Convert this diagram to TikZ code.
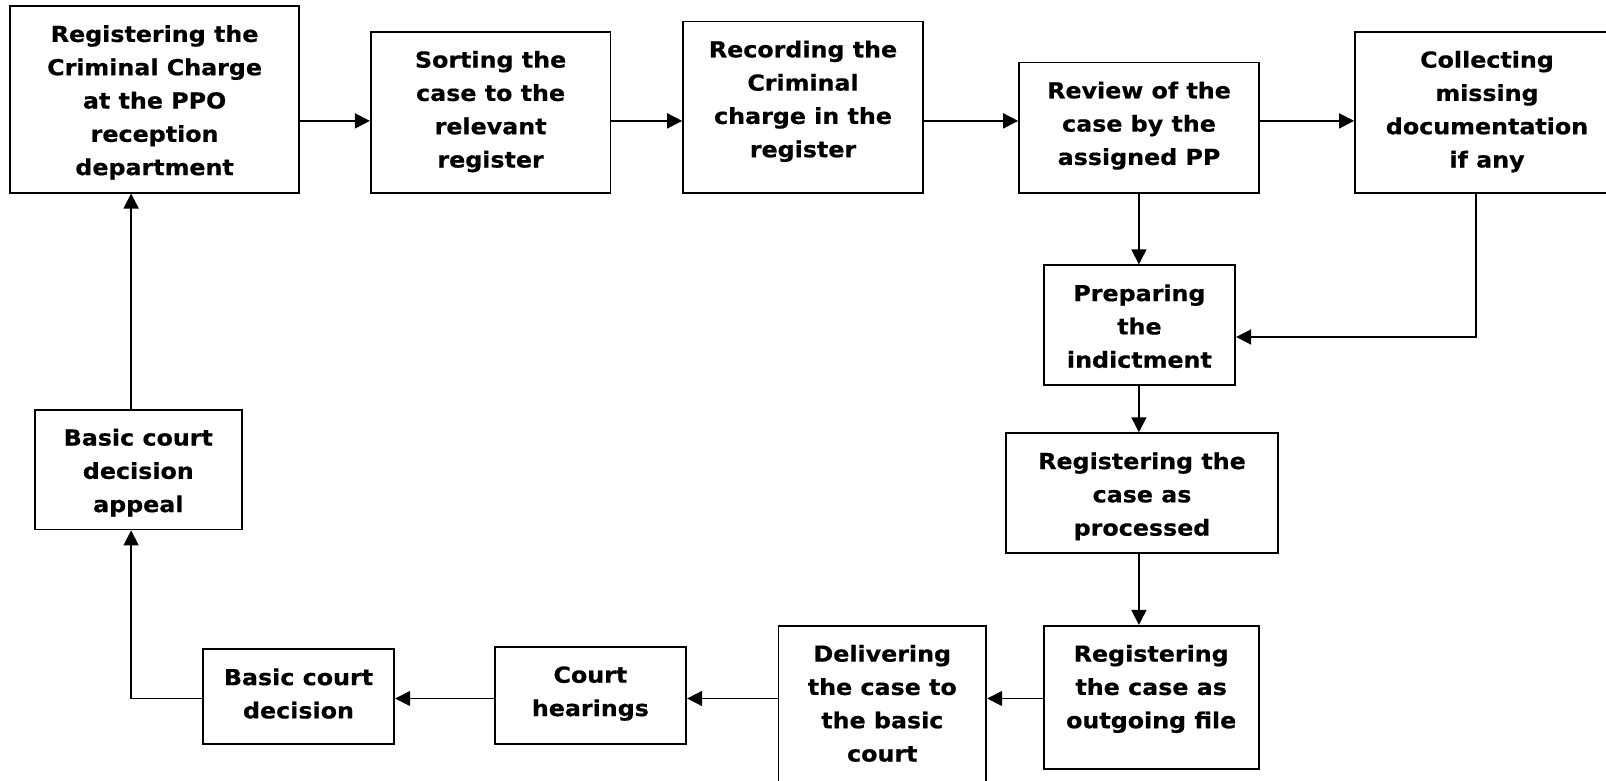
\documentclass[tikz,border=0pt]{standalone}
\usepackage{fontspec}
\setmainfont[FakeStretch=1.08,BoldFeatures={FakeBold=0.6}]{DejaVu Sans}
\usetikzlibrary{arrows.meta,fit}
\begin{document}
\begin{tikzpicture}[x=1pt,y=-1pt,
  box/.style={draw=black,line width=1.8pt,inner sep=0pt,fill=none},
  txt/.style={align=center,inner sep=0pt,anchor=north,
    font=\fontsize{22}{33.3}\selectfont\bfseries},
  arr/.style={line width=1.6pt,-{Triangle[length=15pt,width=15pt]}}]
\useasboundingbox (0,0) rectangle (1606,781);
\clip (0,0) rectangle (1606,781);
\fill[white] (0,0) rectangle (1606,781);

% process boxes: corners, then the text hung from the top edge
\node[box,fit={(10.2,6.1)(299.1,192.6)}] (b1) {};
\node[txt] (t1) at (154.6,25) {Registering the\\Criminal Charge\\at the PPO\\reception\\department};

\node[box,fit={(370.8,31.8)(610.4,192.6)}] (b2) {};
\node[txt] (t2) at (490.6,50.7) {Sorting the\\case to the\\relevant\\register};

\node[box,fit={(683.1,21.5)(922.8,192.6)}] (b3) {};
\node[txt] (t3) at (803,40.4) {Recording the\\Criminal\\charge in the\\register};

\node[box,fit={(1019.1,62.5)(1258.8,192.6)}] (b4) {};
\node[txt] (t4) at (1139,81.4) {Review of the\\case by the\\assigned PP};

\node[box,fit={(1355,31.8)(1619,192.6)}] (b5) {};
\node[txt] (t5) at (1487,50.7) {Collecting\\missing\\documentation\\if any};

\node[box,fit={(1043.6,265.3)(1235.2,385.1)}] (b6) {};
\node[txt] (t6) at (1139.4,284.2) {Preparing\\the\\indictment};

\node[box,fit={(1005.8,433.2)(1278.2,553.1)}] (b7) {};
\node[txt] (t7) at (1142,452.1) {Registering the\\case as\\processed};

\node[box,fit={(1043.6,625.8)(1258.8,769.2)}] (b8) {};
\node[txt] (t8) at (1151.2,644.7) {Registering\\the case as\\outgoing file};

\node[box,fit={(778.4,625.8)(986.3,790)}] (b9) {};
\node[txt] (t9) at (882.3,644.7) {Delivering\\the case to\\the basic\\court};

\node[box,fit={(494.7,647.3)(686.2,743.6)}] (b10) {};
\node[txt] (t10) at (590.4,666.2) {Court\\hearings};

\node[box,fit={(202.8,649.3)(394.3,743.6)}] (b11) {};
\node[txt] (t11) at (298.5,668.2) {Basic court\\decision};

\node[box,fit={(34.8,409.7)(241.7,529.5)}] (b12) {};
\node[txt] (t12) at (138.3,428.6) {Basic court\\decision\\appeal};

% routing levels
\coordinate (topRow) at (0,120.9);
\coordinate (botRow) at (0,698.5);
\coordinate (midCol) at (1138.9,0);
\coordinate (leftCol) at (131.1,0);
\coordinate (rightCol) at (1475.9,337);

% top row, left to right
\draw[arr] (b1.east |- topRow) -- (b2.west |- topRow);
\draw[arr] (b2.east |- topRow) -- (b3.west |- topRow);
\draw[arr] (b3.east |- topRow) -- (b4.west |- topRow);
\draw[arr] (b4.east |- topRow) -- (b5.west |- topRow);

% middle column, downwards
\draw[arr] (b4.south -| midCol) -- (b6.north -| midCol);
\draw[arr] (b5.south -| rightCol) -- (rightCol) -- (b6.east |- rightCol);
\draw[arr] (b6.south -| midCol) -- (b7.north -| midCol);
\draw[arr] (b7.south -| midCol) -- (b8.north -| midCol);

% bottom row, right to left
\draw[arr] (b8.west |- botRow) -- (b9.east |- botRow);
\draw[arr] (b9.west |- botRow) -- (b10.east |- botRow);
\draw[arr] (b10.west |- botRow) -- (b11.east |- botRow);

% back up the left side
\draw[arr] (b11.west |- botRow) -| (b12.south -| leftCol);
\draw[arr] (b12.north -| leftCol) -- (b1.south -| leftCol);
\end{tikzpicture}
\end{document}
